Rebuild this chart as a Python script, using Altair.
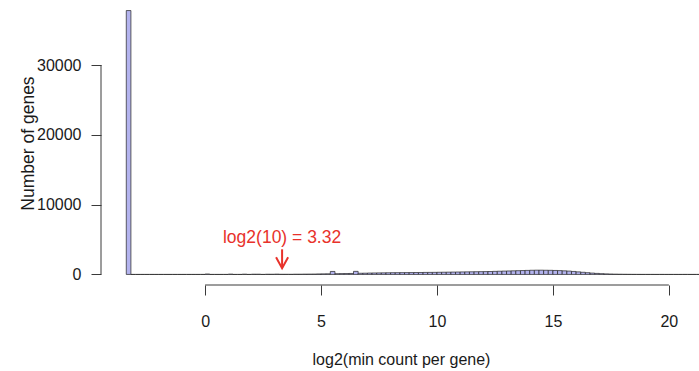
import altair as alt
import numpy as np
import pandas as pd

# Histogram of log2(min count per gene), bins of width 0.2
bin_width = 0.2
zero_bin_left = -3.4
zero_bin_count = 37800

# counts for bins starting at 0.0, 0.2, 0.4, ...
counts = [
    60, 0, 0, 0, 0, 45, 0, 0, 35, 0,          # 0.0 - 1.8
    30, 28, 0, 25, 22, 40, 18, 17, 16, 30,    # 2.0 - 3.8
    28, 40, 45, 50, 70, 80, 90, 430, 110, 120,  # 4.0 - 5.8
    130, 140, 440, 170, 180, 200, 210, 220, 230, 240,  # 6.0 - 7.8
    250, 255, 260, 265, 270, 275, 280, 290, 295, 300,  # 8.0 - 9.8
    310, 320, 330, 340, 350, 360, 370, 380, 390, 400,  # 10.0 - 11.8
    410, 420, 440, 460, 480, 500, 520, 540, 560, 580,  # 12.0 - 13.8
    600, 610, 610, 600, 590, 570, 550, 520, 480, 430,  # 14.0 - 15.8
    370, 310, 250, 195, 150, 110, 80, 55, 38, 26,      # 16.0 - 17.8
    17, 11, 7, 5, 3, 2, 1, 0, 1, 0,                    # 18.0 - 19.8
    0, 0, 0, 1, 0, 0, 0, 0,                            # 20.0 - 21.4
]
# empty bins between the zero-count spike and 0
gap_counts = [0] * 16

x_ticks = [0, 5, 10, 15, 20]
y_ticks = [0, 10000, 20000, 30000]

note_text = "log2(10) = 3.32"
note_x = 3.32
note_y = 5150
arrow_top, arrow_tip, head_y, head_half = 3600, 900, 2450, 0.26

all_counts = [zero_bin_count] + gap_counts + counts
lefts = zero_bin_left + bin_width * np.arange(len(all_counts))
hist = pd.DataFrame({"left": np.round(lefts, 2),
                     "right": np.round(lefts + bin_width, 2),
                     "count": all_counts})

FONT = "Liberation Sans"
RED = "#e8322b"
AX = "#3a3a3a"
TXT = "#1a1a1a"

xs = alt.Scale(domain=[-4.49, 21.3], nice=False, zero=False)
ys = alt.Scale(domain=[-1512, 39312], nice=False, zero=False)

bars = alt.Chart(hist).mark_rect(
    fill="#b3b3ee", stroke="#222222", strokeWidth=0.7
).encode(
    x=alt.X("left:Q", scale=xs, axis=alt.Axis(
        values=x_ticks, domain=False, grid=False, tickSize=10, tickColor=AX,
        tickWidth=1, labelFont=FONT, labelFontSize=16, labelColor=TXT,
        labelPadding=18, labelBaseline="top", title="log2(min count per gene)",
        titleFont=FONT, titleFontSize=16, titleFontWeight="normal",
        titleColor=TXT, titleX=300, titleY=79, titleBaseline="alphabetic")),
    x2="right:Q",
    y=alt.Y("count:Q", scale=ys, axis=alt.Axis(
        values=y_ticks, domain=False, grid=False, tickSize=10, tickColor=AX,
        tickWidth=1, labelFont=FONT, labelFontSize=16, labelColor=TXT,
        labelPadding=10, labelAlign="right", labelBaseline="middle",
        format="d", title="Number of genes", titleFont=FONT, titleFontSize=17.5,
        titleFontWeight="normal", titleColor=TXT, titleAngle=-90,
        titleX=-68, titleY=143, titleBaseline="alphabetic", titleAlign="center")),
    y2=alt.datum(0),
)

# R-style axis lines spanning only the tick range
xline = alt.Chart(pd.DataFrame({"a": [x_ticks[0]], "b": [x_ticks[-1]]})).mark_rule(
    color=AX, strokeWidth=1
).encode(x=alt.X("a:Q", scale=xs), x2="b:Q", y=alt.value(285))
yline = alt.Chart(pd.DataFrame({"a": [y_ticks[0]], "b": [y_ticks[-1]]})).mark_rule(
    color=AX, strokeWidth=1
).encode(y=alt.Y("a:Q", scale=ys), y2="b:Q", x=alt.value(0))

note = alt.Chart(pd.DataFrame({"x": [note_x], "y": [note_y], "t": [note_text]})).mark_text(
    font=FONT, fontSize=17.5, color=RED, baseline="middle", align="center"
).encode(x=alt.X("x:Q", scale=xs), y=alt.Y("y:Q", scale=ys), text="t:N")

shaft = alt.Chart(pd.DataFrame({"x": [note_x], "y": [arrow_top], "y2": [arrow_tip]})).mark_rule(
    color=RED, strokeWidth=2
).encode(x=alt.X("x:Q", scale=xs), y=alt.Y("y:Q", scale=ys), y2="y2:Q")

head = alt.Chart(pd.DataFrame({
    "x": [note_x - head_half, note_x, note_x + head_half],
    "y": [head_y, arrow_tip, head_y],
    "o": [0, 1, 2],
})).mark_line(color=RED, strokeWidth=2).encode(
    x=alt.X("x:Q", scale=xs), y=alt.Y("y:Q", scale=ys), order="o:Q")

chart = alt.layer(bars, xline, yline, note, shaft, head).properties(
    width=598, height=285,
    background="white",
    autosize=alt.AutoSizeParams(type="none"),
    padding={"left": 101, "top": 0, "right": 0, "bottom": 86},
).configure_view(strokeWidth=0)

chart.save("out.html", embed_options={"renderer": "svg", "actions": False})
